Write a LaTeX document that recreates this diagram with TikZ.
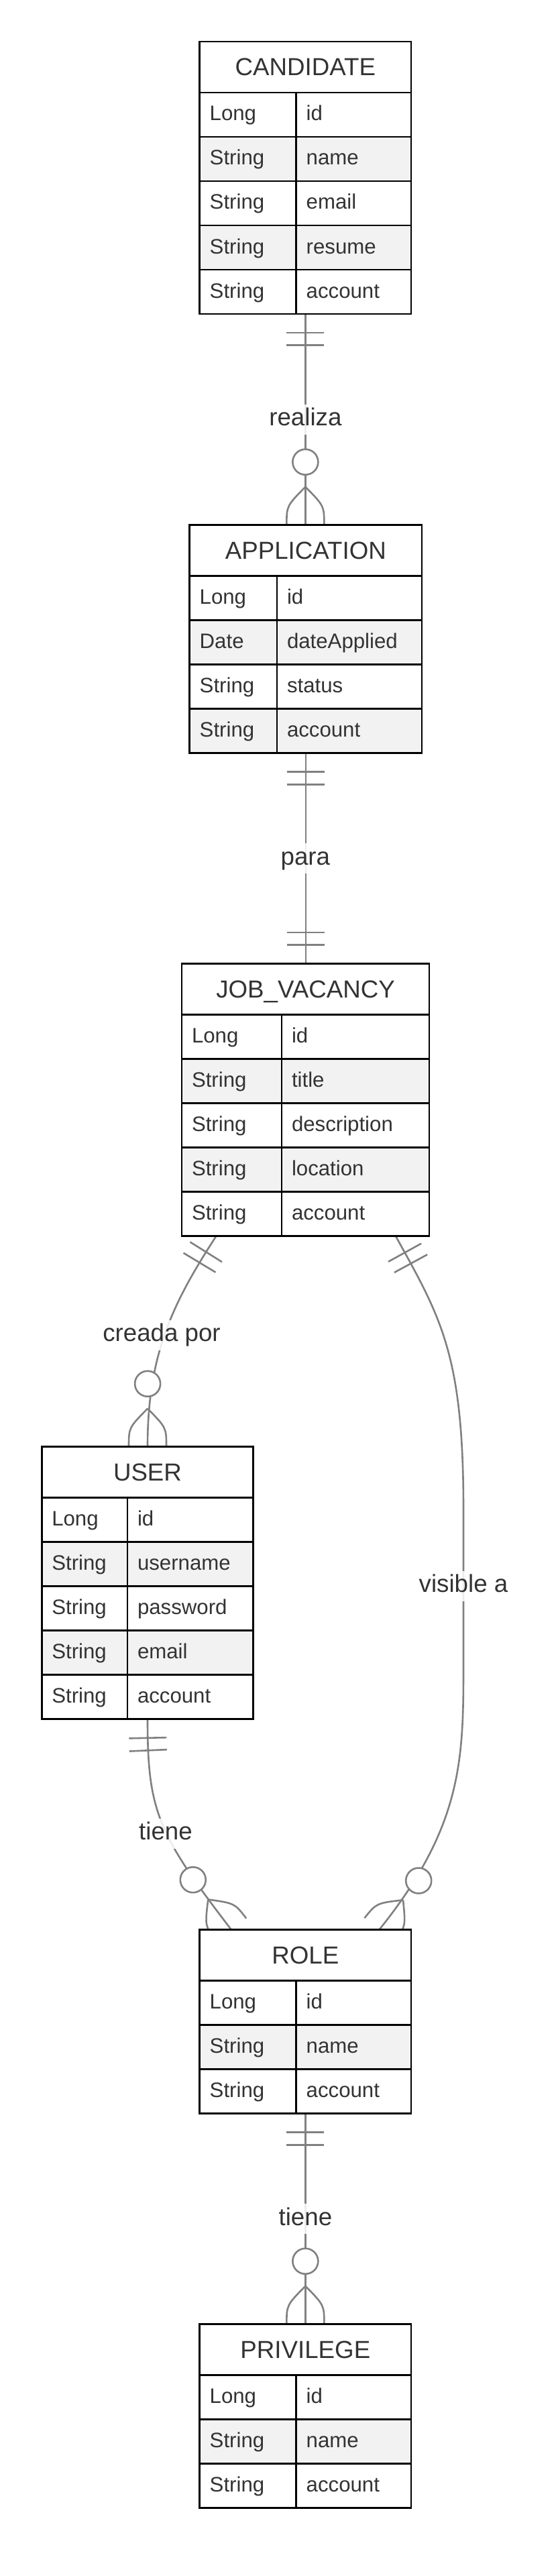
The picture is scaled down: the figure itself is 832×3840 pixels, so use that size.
\documentclass[tikz,border=0pt]{standalone}
\usepackage{fontspec}
\setmainfont{Liberation Sans}
\usetikzlibrary{fit,backgrounds,decorations.markings}

\definecolor{txt}{HTML}{333333}
\definecolor{relgray}{HTML}{808080}
\definecolor{rowgray}{HTML}{F2F2F2}

\newcommand{\hdfont}{\fontsize{36.7}{44}\selectfont}
\newcommand{\rowfont}{\fontsize{31.2}{37}\selectfont}

\tikzset{
  box/.style={draw=black, line width=2.8pt, outer sep=0pt, inner sep=0pt, anchor=north west, text=txt},
  hd/.style={box, fill=white, minimum height=76, font=\hdfont, text depth=0pt},
  cell/.style={box, minimum height=66, font=\rowfont, inner xsep=15pt, align=left, text height=23pt, text depth=5pt},
  rel/.style={draw=relgray, line width=2.6pt},
  lbl/.style={font=\hdfont, text=txt, fill=white, fill opacity=0.85, text opacity=1, inner xsep=2pt, inner ysep=5pt, text height=27pt, text depth=8pt},
  one start/.style={postaction={decorate, decoration={markings,
    mark=at position 28pt with {\draw[rel] (0,-28) -- (0,28);},
    mark=at position 46.6pt with {\draw[rel] (0,-28) -- (0,28);}}}},
  one end/.style={postaction={decorate, decoration={markings,
    mark=at position -28pt with {\draw[rel] (0,-28) -- (0,28);},
    mark=at position -46.6pt with {\draw[rel] (0,-28) -- (0,28);}}}},
  many end/.style={postaction={decorate, decoration={markings,
    mark=at position -1pt with {
      \draw[rel] (-56,0) .. controls (-27.5,28) .. (1,28);
      \draw[rel] (-56,0) .. controls (-27.5,-28) .. (1,-28);
      \draw[rel, fill=white] (-93,0) circle [radius=19pt];}}}}
}

\newcommand{\erent}[7]{%
  \node[hd, minimum width=#4] (#1-h) at (#2,#3) {#6};
  \pgfmathsetmacro\tw{#5-30}
  \pgfmathsetmacro\nw{#4-#5}
  \pgfmathsetmacro\nt{#4-#5-30}
  \foreach \ty/\nm [count=\i] in {#7} {
    \ifodd\i\relax\def\rf{white}\else\def\rf{rowgray}\fi
    \node[cell, fill=\rf, minimum width=#5, text width=\tw pt] (#1-t\i) at (#2,#3+10+\i*66) {\ty};
    \node[cell, fill=\rf, minimum width=\nw, text width=\nt pt] (#1-n\i) at (#2+#5,#3+10+\i*66) {\nm};
    \xdef\nrows{\i}
  }
  \node[fit=(#1-h)(#1-n\nrows), inner sep=0pt, outer sep=0pt] (#1) {};
}

\begin{document}
\begin{tikzpicture}[x=1pt,y=-1pt]
\useasboundingbox (0,0) rectangle (832,3840);

\erent{cand}{297.7}{62}{315.3}{144}{CANDIDATE}{Long/id, String/name, String/email, String/resume, String/account}
\erent{app}{282.7}{782.7}{346.3}{130.3}{APPLICATION}{Long/id, Date/dateApplied, String/status, String/account}
\erent{job}{271}{1436.7}{369}{149}{JOB\_VACANCY}{Long/id, String/title, String/description, String/location, String/account}
\erent{user}{62.3}{2156.7}{315.4}{127.7}{USER}{Long/id, String/username, String/password, String/email, String/account}
\erent{role}{297.7}{2876.7}{315.3}{144}{ROLE}{Long/id, String/name, String/account}
\erent{priv}{297.7}{3464.7}{315.3}{144}{PRIVILEGE}{Long/id, String/name, String/account}

\coordinate (c1) at (691,2250);
\coordinate (c2) at (691,2480);

\begin{pgfonlayer}{background}
\fill[white] (0,0) rectangle (832,3840);
\draw[rel, one start, many end] (cand.south) -- (cand.south |- app.north);
\draw[rel, one start, one end] (app.south) -- (app.south |- job.north);
\draw[rel, one start, many end] ([xshift=51.3pt]job.south west) .. controls +(-65.4,100.6) and +(0,-136.7) .. (user.north);
\draw[rel, one start, many end] ([xshift=-50pt]job.south east) .. controls +(67.9,122.5) and +(0,-230) .. (c1) -- (c2) .. controls +(0,140) and +(125.4,-155.6) .. ([xshift=-47.7pt]role.north east);
\draw[rel, one start, many end] (user.south) .. controls +(0,137.3) and +(-109.6,-142.7) .. ([xshift=47.3pt]role.north west);
\draw[rel, one start, many end] (role.south) -- (role.south |- priv.north);
\end{pgfonlayer}

\node[lbl] (l1) at (455.4,625.4) {realiza};
\node[lbl] (l2) at (455.4,1279.7) {para};
\node[lbl] (l3) at (241,1990) {creada por};
\node[lbl] (l4) at (691,2364) {visible a};
\node[lbl] (l5) at (247,2733) {tiene};
\node[lbl] (l6) at (455.4,3307.7) {tiene};
\end{tikzpicture}
\end{document}
